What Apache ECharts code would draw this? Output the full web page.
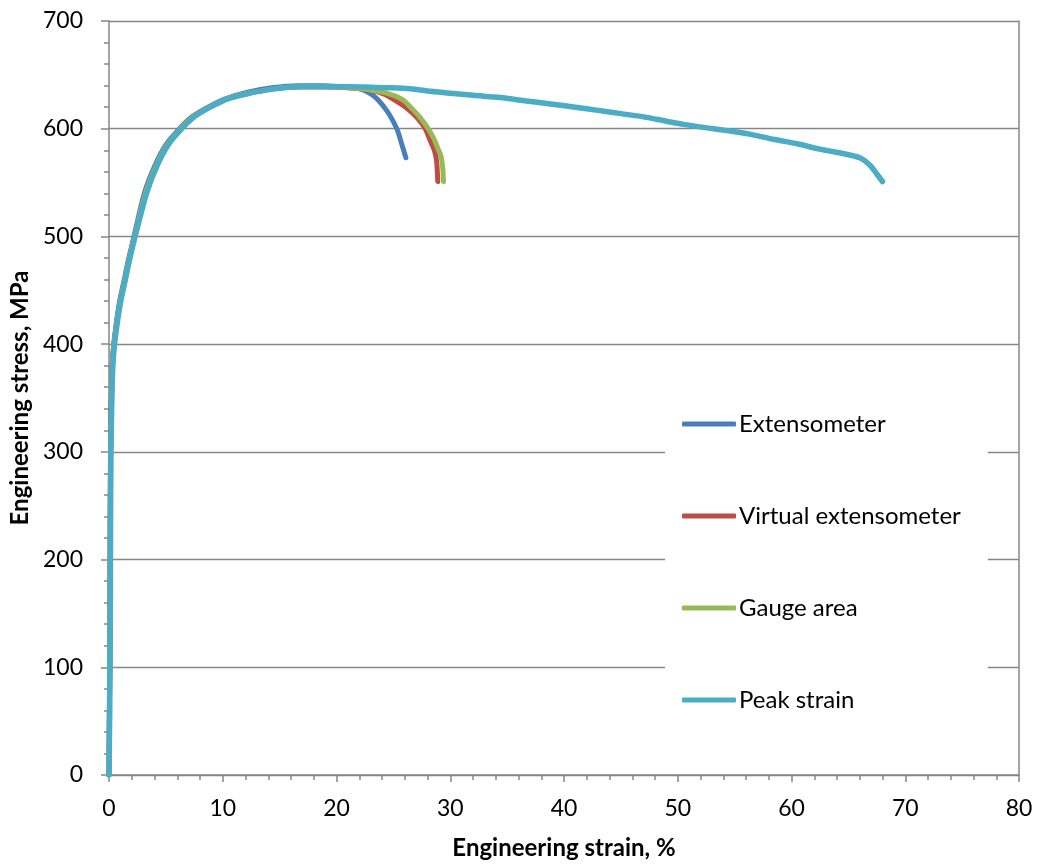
<!DOCTYPE html>
<html>
<head>
<meta charset="utf-8">
<script src="https://cdn.jsdelivr.net/npm/echarts@6/dist/echarts.min.js"></script>
<style>
html,body{margin:0;padding:0;background:#fff;}
#chart{width:1041px;height:864px;}
</style>
</head>
<body>
<div id="chart"></div>
<script>
const seriesNames = ['Extensometer', 'Virtual extensometer', 'Gauge area', 'Peak strain'];
const seriesColors = ['#4A7EBB', '#BE4B48', '#98B954', '#4BACC6'];

const extensometer = [[0,0],[0.06,100],[0.1,200],[0.14,300],[0.25,370],[0.35,392],[0.55,412],[0.9,438],[1.3,458],[1.7,478],[2.2,500],[3.1,540],[4.0,565],[5.0,585],[6.2,600],[7.3,611],[8.7,620],[10.3,628],[12.2,634],[14.3,638],[16.6,640],[18.8,640],[20.6,639],[21.8,638],[23.2,631],[24.4,617],[25.3,600],[25.7,587],[26.1,573]];
const virtualExt = [[0,0],[0.05,100],[0.09,200],[0.13,300],[0.25,372],[0.36,392],[0.57,412],[0.95,438],[1.35,458],[1.75,478],[2.25,500],[3.2,540],[4.1,565],[5.1,585],[6.3,600],[7.4,611],[8.8,620],[10.4,628],[12.3,633],[14.4,637],[16.7,639],[18.9,639],[21,638],[23,636],[24.2,632],[25.2,626],[26.2,619],[27.1,610],[27.8,600],[28.2,590],[28.6,580],[28.8,570],[28.9,551]];
const gaugeArea = [[0,0],[0.06,100],[0.1,200],[0.15,300],[0.27,372],[0.37,392],[0.58,412],[0.95,438],[1.35,458],[1.75,478],[2.25,500],[3.2,540],[4.1,565],[5.1,585],[6.3,600],[7.4,611],[8.8,620],[10.4,628],[12.3,633],[14.4,637],[16.7,639],[18.9,639],[21,638],[23,636],[24.4,633],[25.8,627],[26.6,619],[27.3,611],[28.0,601],[28.5,592],[28.9,582],[29.2,574],[29.35,562],[29.4,551]];
const peakStrain = [[0,0],[0.1,100],[0.13,200],[0.17,300],[0.3,370],[0.4,390],[0.6,410],[1.0,438],[1.4,458],[1.8,478],[2.3,500],[3.3,540],[4.2,565],[5.2,585],[6.4,600],[7.5,611],[8.9,620],[10.5,628],[12.4,633],[14.5,637],[16.8,639],[19,639],[21.2,639],[23,638.5],[24.7,638],[26.5,637],[28,635],[30,633],[32,631],[34.4,629],[36.5,626],[38.8,623],[41,620],[43,617],[45,614],[47,611],[49,607],[50.5,604],[52.4,601],[54.5,598],[56.3,595],[58.5,590],[60.5,586],[62.5,581],[64.5,577],[66,573],[66.9,566],[67.5,558],[68,551]];

const xTicks = {min: 0, max: 80, interval: 10};
const yTicks = {min: 0, max: 700, interval: 100};

const chart = echarts.init(document.getElementById('chart'), null, {renderer: 'canvas'});
const font = 'Lato';
const axisGray = '#868686';
const dataSets = [extensometer, virtualExt, gaugeArea, peakStrain];

chart.setOption({
  animation: false,
  backgroundColor: '#fff',
  grid: {left: 109, right: 22, top: 21, bottom: 89, containLabel: false, outerBoundsMode: 'none'},
  legend: {
    orient: 'vertical',
    left: 665,
    top: 398,
    padding: [14, 27, 14, 17],
    backgroundColor: '#fff',
    itemGap: 68,
    itemWidth: 54,
    itemHeight: 5,
    icon: 'roundRect',
    data: seriesNames,
    textStyle: {fontFamily: font, fontSize: 24, color: '#000', padding: [0, 0, 0, -2], lineHeight: 24}
  },
  xAxis: {
    type: 'value',
    min: xTicks.min, max: xTicks.max, interval: xTicks.interval,
    name: 'Engineering strain, %',
    nameLocation: 'middle',
    nameGap: 61,
    nameTextStyle: {fontFamily: font, fontSize: 24, fontWeight: 'bold', color: '#000'},
    axisLine: {show: true, onZero: false, lineStyle: {color: axisGray, width: 1.5}},
    axisTick: {show: true, length: 7, lineStyle: {color: axisGray, width: 1.5}},
    minorTick: {show: true, splitNumber: 5, length: 5, lineStyle: {color: axisGray, width: 1.5}},
    axisLabel: {fontFamily: font, fontSize: 23, color: '#000', margin: 22},
    splitLine: {show: false}
  },
  yAxis: [{
    type: 'value',
    min: yTicks.min, max: yTicks.max, interval: yTicks.interval,
    name: 'Engineering stress, MPa',
    nameLocation: 'middle',
    nameGap: 75,
    nameTextStyle: {fontFamily: font, fontSize: 24, fontWeight: 'bold', color: '#000'},
    axisLine: {show: true, lineStyle: {color: axisGray, width: 1.5}},
    axisTick: {show: true, length: 8, lineStyle: {color: axisGray, width: 1.5}},
    minorTick: {show: true, splitNumber: 5, length: 5, lineStyle: {color: axisGray, width: 1.5}},
    axisLabel: {fontFamily: font, fontSize: 23, color: '#000', margin: 26},
    splitLine: {show: true, lineStyle: {color: axisGray, width: 1.4}}
  }, {
    type: 'value',
    position: 'right',
    min: yTicks.min, max: yTicks.max, interval: yTicks.interval,
    axisLine: {show: true, lineStyle: {color: axisGray, width: 1.5}},
    axisTick: {show: false},
    axisLabel: {show: false},
    splitLine: {show: false}
  }],
  series: seriesNames.map((name, i) => ({
    name: name,
    type: 'line',
    data: dataSets[i],
    showSymbol: false,
    symbol: 'none',
    smooth: 0.3,
    lineStyle: {color: seriesColors[i], width: i === 3 ? 5.5 : 5, cap: 'round', join: 'round'},
    itemStyle: {color: seriesColors[i]},
    z: 2 + i
  }))
});
</script>
</body>
</html>
